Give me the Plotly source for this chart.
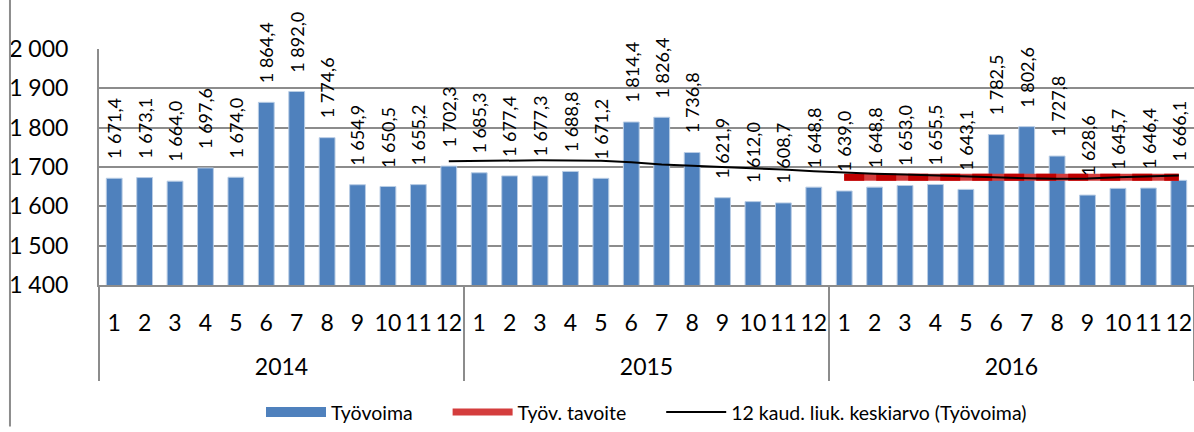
import plotly.graph_objects as go

# data
years = ["<br>2014"] * 12 + ["<br>2015"] * 12 + ["<br>2016"] * 12
months = [str(m) for m in range(1, 13)] * 3

tyovoima = [
    1671.4, 1673.1, 1664.0, 1697.6, 1674.0, 1864.4, 1892.0, 1774.6, 1654.9, 1650.5, 1655.2, 1702.3,
    1685.3, 1677.4, 1677.3, 1688.8, 1671.2, 1814.4, 1826.4, 1736.8, 1621.9, 1612.0, 1608.7, 1648.8,
    1639.0, 1648.8, 1653.0, 1655.5, 1643.1, 1782.5, 1802.6, 1727.8, 1628.6, 1645.7, 1646.4, 1666.1,
]
# 12 period moving average (shown from 2014/12 onward)
liuk_ka = [None] * 11 + [
    1714.5,
    1715.7, 1716.0, 1717.1, 1716.4, 1716.2, 1712.0, 1706.5, 1703.4, 1700.6, 1697.4, 1693.5, 1689.1,
    1685.2, 1682.8, 1680.8, 1678.0, 1675.7, 1673.0, 1671.1, 1670.3, 1670.9, 1673.7, 1676.8, 1678.3,
]
tavoite = [None] * 24 + [1674.0] * 12

FONT = "Lato, 'Open Sans', sans-serif"
BLUE = "#4f81bd"
GRID = "#8c8c8c"
PAD = "\u00a0" * 6  # extra room between legend entries

x = [years, months]

fig = go.Figure()
fig.add_trace(go.Bar(
    x=x, y=tyovoima, name="Työvoima", showlegend=False,
    marker=dict(color=BLUE, line=dict(color="#b9cde5", width=1)),
))
# legend stand-in: wide blue block like the original legend key
fig.add_trace(go.Scatter(
    x=[None], y=[None], name="Työvoima" + PAD, mode="lines",
    line=dict(color=BLUE, width=12),
))
fig.add_trace(go.Scatter(
    x=x, y=tavoite, name="Työv. tavoite" + PAD, mode="lines",
    line=dict(color="#d43d3d", width=7),
))
fig.add_trace(go.Scatter(
    x=x, y=tavoite, mode="lines", showlegend=False, hoverinfo="skip",
    line=dict(color="#c00000", width=7, dash="20px,12px"),
))
fig.add_trace(go.Scatter(
    x=x, y=liuk_ka, name="12 kaud. liuk. keskiarvo (Työvoima)", mode="lines",
    line=dict(color="black", width=2),
))

# value labels above the bars, rotated like the original
for i, v in enumerate(tyovoima):
    fig.add_annotation(
        x=i, y=v, text=f"{v:,.1f}".replace(",", " ").replace(".", ","),
        textangle=-90, showarrow=False, yanchor="bottom", yshift=17,
        font=dict(size=18, color="black", family=FONT),
    )

# outer frame edge on the left
fig.add_shape(type="line", xref="paper", yref="paper", x0=-0.0813, x1=-0.0813, y0=-0.6, y1=1.25,
              line=dict(color=GRID, width=2))

fig.update_xaxes(
    type="multicategory", tickangle=0,
    showline=True, linecolor=GRID, linewidth=2,
    showdividers=True, dividercolor=GRID, dividerwidth=2,
    tickfont=dict(size=23, color="black", family=FONT),
    ticklabelstandoff=16, showgrid=False,
)
fig.update_yaxes(
    range=[1400, 2000], dtick=100, tickformat=",d",
    showgrid=True, gridcolor=GRID, gridwidth=2,
    showline=True, linecolor=GRID, linewidth=2,
    tickfont=dict(size=23, color="black", family=FONT),
    ticklabelstandoff=24, zeroline=False,
)
fig.update_layout(
    width=1194, height=432,
    separators=", ",
    barmode="overlay", bargap=0.48,
    plot_bgcolor="white", paper_bgcolor="white",
    font=dict(family=FONT, color="black"),
    margin=dict(l=99, r=0, t=49, b=142),
    showlegend=True,
    legend=dict(orientation="h", x=0.5, xanchor="center", y=-0.54, yanchor="middle",
                font=dict(size=19.5), itemwidth=60, traceorder="normal"),
)

fig.write_html("out.html", config={"displayModeBar": False},
               post_script="document.body.style.margin='0';")
